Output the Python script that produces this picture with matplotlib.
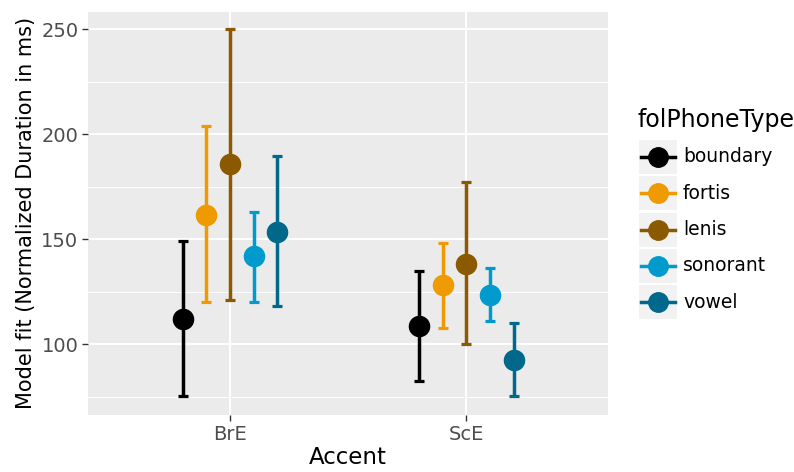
import numpy as np
import matplotlib
matplotlib.use("Agg")
import matplotlib.pyplot as plt
from matplotlib.lines import Line2D
from matplotlib.patches import Rectangle

# Data
accents = ["BrE", "ScE"]
phoneTypes = ["boundary", "fortis", "lenis", "sonorant", "vowel"]
colors = ["#000000", "#EE9A00", "#8B5A00", "#009ACD", "#00688B"]

fitBrE = [112.0, 161.6, 185.6, 142.0, 153.2]
lowBrE = [75.4, 120.1, 121.1, 120.1, 118.2]
highBrE = [149.2, 203.6, 250.1, 163.1, 189.7]

fitScE = [108.4, 127.9, 138.2, 123.5, 92.5]
lowScE = [82.2, 107.6, 100.1, 110.8, 75.4]
highScE = [134.6, 148.1, 177.3, 136.2, 110.0]

yTicks = [100, 150, 200, 250]


def main():
    fig = plt.figure(figsize=(7.94, 4.72), dpi=100)
    ax = fig.add_axes([0.111, 0.121, 0.655, 0.854])

    fits = np.array([fitBrE, fitScE])
    lows = np.array([lowBrE, lowScE])
    highs = np.array([highBrE, highScE])
    xBase = np.arange(1, len(accents) + 1)

    for i, (name, col) in enumerate(zip(phoneTypes, colors)):
        xPos = xBase + (i - 2) * 0.1                   # dodge
        yerr = [fits[:, i] - lows[:, i], highs[:, i] - fits[:, i]]
        ax.errorbar(xPos, fits[:, i], yerr=yerr, fmt="o", color=col,
                    ms=14.5, elinewidth=2.5, capsize=3.3, capthick=2.3,
                    zorder=3, label=name)

    # ggplot-like panel
    ax.set_facecolor("#EBEBEB")
    for s in ax.spines.values():
        s.set_visible(False)
    ax.set_xlim(0.4, 2.6)
    ax.set_ylim(66.3, 258.2)
    ax.set_xticks(xBase)
    ax.set_xticklabels(accents)
    ax.set_yticks(yTicks)
    ax.set_yticks([75, 125, 175, 225], minor=True)
    ax.grid(which="major", color="white", lw=1.4, zorder=0)
    ax.grid(which="minor", axis="y", color="white", lw=0.7, zorder=0)
    ax.tick_params(axis="both", which="major", length=4, width=1,
                   color="#333333", labelsize=14, labelcolor="#4D4D4D", pad=3)
    ax.tick_params(axis="both", which="minor", length=0)
    ax.set_axisbelow(True)

    ax.set_xlabel("Accent", fontsize=16.5, labelpad=2)
    ax.set_ylabel("Model fit (Normalized Duration in ms)", fontsize=15, labelpad=4)

    # Legend in ggplot style
    W, H = 794, 472
    fig.text(637 / W, 1 - 120 / H, "folPhoneType", fontsize=17,
             va="center", ha="left")
    for i, (name, col) in enumerate(zip(phoneTypes, colors)):
        yc = 157 + i * 36.3
        fig.patches.append(Rectangle((639 / W, 1 - (yc + 17) / H), 38 / W, 34 / H,
                                     transform=fig.transFigure, color="#F2F2F2",
                                     lw=0))
        fig.lines.append(Line2D([641 / W, 675 / W], [1 - yc / H] * 2,
                                transform=fig.transFigure, color=col, lw=2.5))
        fig.lines.append(Line2D([658 / W], [1 - yc / H], marker="o", ms=14,
                                transform=fig.transFigure, color=col))
        fig.text(683 / W, 1 - yc / H, name, fontsize=13.5, va="center", ha="left")

    fig.savefig("out.png", dpi=100)


if __name__ == "__main__":
    main()
